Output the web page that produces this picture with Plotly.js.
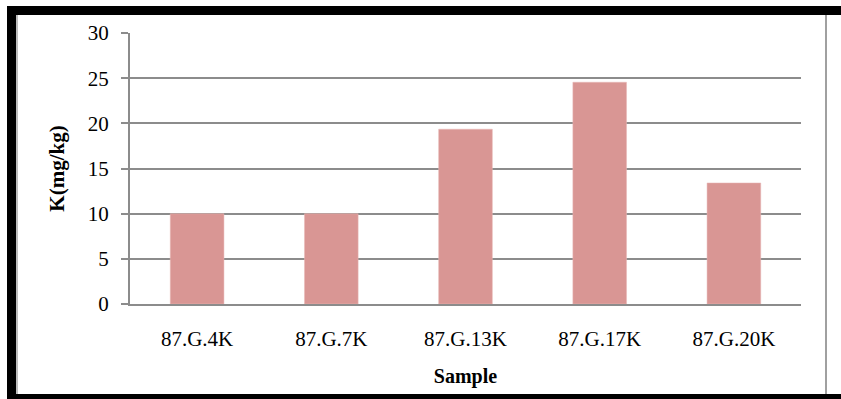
<!DOCTYPE html>
<html>
<head>
<meta charset="utf-8">
<script src="https://cdn.plot.ly/plotly-3.0.1.min.js"></script>
<style>
  html, body { margin: 0; padding: 0; background: #fff; }
  #wrap { position: relative; width: 841px; height: 399px; overflow: hidden; }
  #chart { position: absolute; left: 0; top: 0; width: 841px; height: 399px; }
  .fr { position: absolute; pointer-events: none; }
</style>
</head>
<body>
<div id="wrap">
  <div id="chart"></div>
  <div class="fr" style="left:7px;top:6px;width:834px;height:9px;background:#000;"></div>
  <div class="fr" style="left:7px;top:6px;width:9px;height:393px;background:#000;"></div>
  <div class="fr" style="left:7px;top:394px;width:834px;height:5px;background:#000;"></div>
  <div class="fr" style="left:16px;top:15px;width:2px;height:379px;background:#bdbdbd;"></div>
  <div class="fr" style="left:825px;top:15px;width:2px;height:379px;background:#a0a0a0;"></div>
</div>
<script>
const categories = ["87.G.4K", "87.G.7K", "87.G.13K", "87.G.17K", "87.G.20K"];
const values = [10, 10, 19.35, 24.55, 13.4];
const yTicks = [0, 5, 10, 15, 20, 25, 30];

const serif = "'Liberation Serif', 'Times New Roman', serif";

Plotly.newPlot('chart', [{
  type: 'bar',
  x: categories,
  y: values,
  width: 0.4,
  marker: { color: '#D99694', line: { color: '#E8B8B6', width: 0.5 } },
  hoverinfo: 'skip'
}], {
  width: 841, height: 399,
  margin: { l: 130, r: 40, t: 33, b: 95 },
  paper_bgcolor: '#fff', plot_bgcolor: '#fff',
  showlegend: false,
  font: { family: serif, color: '#000', size: 21 },
  xaxis: {
    type: 'category',
    showline: true, linecolor: '#8c8c8c', linewidth: 2,
    showgrid: false, ticks: '', ticklabelstandoff: 15,
    tickfont: { family: serif, size: 21, color: '#000' },
    title: { text: '<b>Sample</b>', font: { family: serif, size: 20, color: '#000' }, standoff: 19 }
  },
  yaxis: {
    range: [0, 30], tickvals: yTicks, ticktext: yTicks.map(String),
    showline: true, linecolor: '#8c8c8c', linewidth: 2,
    showgrid: true, gridcolor: '#8c8c8c', gridwidth: 2,
    zeroline: false,
    ticks: 'outside', ticklen: 7, tickcolor: '#8c8c8c', tickwidth: 2,
    ticklabelstandoff: 8,
    tickfont: { family: serif, size: 21, color: '#000' },
    title: { text: '<b>K(mg/kg)</b>', font: { family: serif, size: 21, color: '#000' }, standoff: 17 }
  }
}, { displayModeBar: false, staticPlot: true });
</script>
</body>
</html>
